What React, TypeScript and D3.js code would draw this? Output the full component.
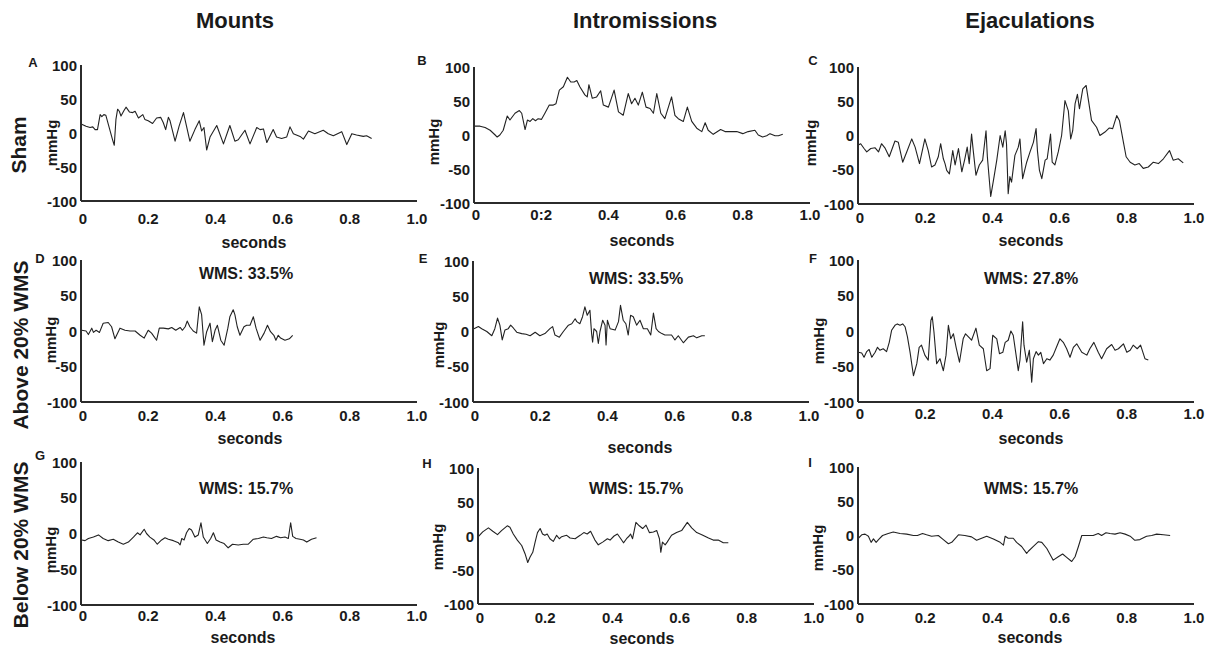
import React from "react";
import * as d3 from "d3";

// ---------- text ----------
const columnTitles = ["Mounts", "Intromissions", "Ejaculations"];
const rowLabels = ["Sham", "Above 20% WMS", "Below 20% WMS"];
const panelLetters = ["A", "B", "C", "D", "E", "F", "G", "H", "I"];
const xTickValues = [0, 0.2, 0.4, 0.6, 0.8, 1.0];
const xTickLabels = ["0", "0.2", "0.4", "0.6", "0.8", "1.0"];
const xTickLabelsB = ["0", "0:2", "0.4", "0.6", "0.8", "1.0"];
const yTickValues = [100, 50, 0, -50, -100];
const wmsLabels = [null, null, null, "WMS: 33.5%", "WMS: 33.5%", "WMS: 27.8%", "WMS: 15.7%", "WMS: 15.7%", "WMS: 15.7%"];

// ---------- data (seconds, mmHg) ----------
const timeA = [0.002,0.015,0.027,0.035,0.042,0.049,0.057,0.062,0.068,0.074,0.084,0.094,0.099,0.104,0.109,0.114,0.119,0.128,0.134,0.144,0.154,0.161,0.171,0.184,0.190,0.200,0.213,0.225,0.237,0.245,0.252,0.260,0.265,0.280,0.292,0.305,0.314,0.324,0.339,0.352,0.359,0.366,0.374,0.384,0.404,0.424,0.443,0.458,0.468,0.488,0.503,0.523,0.533,0.543,0.553,0.572,0.582,0.597,0.612,0.622,0.632,0.652,0.662,0.677,0.696,0.721,0.736,0.751,0.776,0.791,0.806,0.820,0.840,0.850,0.865];
const pressureA = [13,10,8,9,5,5,27,24,27,26,8,-10,-18,20,35,32,25,33,38,31,30,32,22,27,20,18,14,22,23,15,5,23,18,-12,10,30,10,-12,5,18,3,8,-25,-6,11,-16,11,-12,-10,4,-16,8,5,6,-14,5,-6,-8,-6,9,-1,-5,-9,3,-1,4,-1,-4,2,-17,-1,-3,-5,-4,-8];

const timeB = [0.003,0.018,0.033,0.048,0.063,0.069,0.077,0.087,0.099,0.107,0.122,0.135,0.142,0.152,0.159,0.167,0.175,0.183,0.191,0.201,0.211,0.224,0.236,0.244,0.254,0.266,0.278,0.288,0.298,0.306,0.315,0.330,0.337,0.342,0.352,0.365,0.377,0.385,0.400,0.417,0.430,0.444,0.459,0.469,0.479,0.489,0.501,0.512,0.524,0.534,0.544,0.556,0.568,0.588,0.598,0.608,0.623,0.635,0.648,0.663,0.678,0.688,0.697,0.712,0.734,0.747,0.762,0.782,0.800,0.816,0.836,0.846,0.859,0.871,0.881,0.896,0.906,0.919];
const pressureB = [13,13,11,7,0,-3,0,7,28,22,32,36,32,8,22,20,24,21,24,23,32,44,44,46,66,71,85,78,78,80,71,59,56,74,54,56,65,44,41,66,34,29,61,46,54,44,63,41,39,32,61,32,24,56,29,24,20,41,20,10,5,18,7,1,8,5,5,5,2,5,7,0,-3,-1,2,-1,-1,1];

const timeC = [0.001,0.008,0.018,0.026,0.038,0.051,0.061,0.070,0.080,0.093,0.110,0.120,0.133,0.145,0.160,0.170,0.183,0.199,0.209,0.219,0.229,0.239,0.246,0.254,0.259,0.264,0.272,0.282,0.289,0.299,0.309,0.318,0.325,0.331,0.338,0.343,0.351,0.361,0.371,0.381,0.385,0.395,0.405,0.413,0.423,0.431,0.438,0.442,0.447,0.452,0.457,0.467,0.477,0.482,0.490,0.502,0.512,0.522,0.530,0.534,0.540,0.547,0.557,0.563,0.573,0.578,0.586,0.596,0.606,0.616,0.626,0.633,0.639,0.646,0.653,0.659,0.669,0.679,0.686,0.695,0.710,0.720,0.735,0.748,0.758,0.770,0.778,0.790,0.798,0.810,0.824,0.837,0.849,0.864,0.879,0.894,0.909,0.927,0.938,0.953,0.968];
const pressureC = [-14,-12,-19,-24,-19,-18,-24,-12,-18,-31,-8,-10,-39,-24,-5,-17,-41,-5,-22,-46,-43,-31,-12,-34,-41,-51,-56,-22,-43,-19,-53,-34,-17,-41,2,-22,-58,-43,-36,7,-31,-89,-60,-36,0,-17,7,-12,-85,-60,-68,-29,-17,-5,-63,-39,-24,-10,10,-22,-51,-63,-36,-34,2,-39,-43,-24,0,51,36,-5,7,46,60,39,68,73,51,22,12,0,5,11,10,29,22,-10,-31,-39,-43,-41,-48,-46,-39,-41,-34,-22,-36,-34,-40];

const timeD = [0.002,0.015,0.022,0.032,0.037,0.045,0.055,0.066,0.081,0.091,0.101,0.116,0.131,0.146,0.161,0.176,0.188,0.200,0.210,0.225,0.233,0.245,0.260,0.270,0.282,0.295,0.302,0.310,0.316,0.324,0.334,0.344,0.352,0.359,0.366,0.374,0.384,0.391,0.399,0.406,0.416,0.426,0.437,0.443,0.453,0.458,0.465,0.473,0.485,0.493,0.503,0.513,0.521,0.533,0.545,0.555,0.564,0.574,0.580,0.587,0.594,0.607,0.620,0.630];
const pressureD = [1,0,-5,4,-2,1,-2,11,12,6,-11,4,1,0,0,-6,-10,1,-3,-13,4,4,3,5,1,5,1,6,14,6,0,-3,34,23,-20,-1,11,-15,1,8,-13,-20,4,20,30,23,6,-6,6,8,8,20,4,-13,-3,8,-1,-6,-13,-6,-10,-13,-11,-6];

const timeE = [0.003,0.016,0.026,0.041,0.056,0.065,0.073,0.080,0.087,0.095,0.105,0.112,0.120,0.130,0.145,0.158,0.170,0.185,0.199,0.214,0.229,0.237,0.244,0.257,0.269,0.284,0.294,0.304,0.309,0.318,0.326,0.333,0.340,0.348,0.353,0.356,0.360,0.368,0.373,0.378,0.386,0.393,0.396,0.400,0.408,0.423,0.433,0.439,0.447,0.455,0.462,0.469,0.477,0.487,0.497,0.507,0.519,0.529,0.537,0.545,0.552,0.562,0.571,0.581,0.591,0.601,0.611,0.626,0.641,0.656,0.666,0.681,0.690];
const pressureE = [4,7,4,0,-6,4,19,9,-12,2,4,9,5,-1,-3,-4,-6,-1,-6,-3,4,7,-5,-8,0,9,11,18,14,11,21,35,23,30,-3,-15,4,0,-17,0,16,9,-19,16,4,2,14,37,16,11,-5,23,21,9,16,4,4,-5,26,4,0,-3,-5,-5,-5,-12,-6,-16,-8,-6,-9,-6,-6];

const timeF = [0.001,0.011,0.018,0.026,0.033,0.041,0.051,0.058,0.065,0.075,0.085,0.093,0.100,0.110,0.117,0.125,0.133,0.140,0.147,0.155,0.165,0.175,0.182,0.189,0.199,0.209,0.217,0.221,0.226,0.234,0.244,0.254,0.262,0.269,0.276,0.284,0.292,0.302,0.313,0.320,0.328,0.338,0.351,0.361,0.373,0.383,0.393,0.401,0.413,0.421,0.431,0.438,0.447,0.455,0.462,0.472,0.477,0.482,0.490,0.494,0.502,0.510,0.517,0.522,0.530,0.537,0.544,0.552,0.562,0.571,0.581,0.593,0.601,0.611,0.621,0.631,0.641,0.651,0.666,0.681,0.690,0.702,0.715,0.725,0.740,0.755,0.765,0.775,0.790,0.800,0.810,0.819,0.831,0.841,0.854,0.864];
const pressureF = [-30,-31,-37,-29,-26,-37,-30,-23,-27,-25,-29,-16,1,8,10,8,10,6,-8,-30,-63,-46,-23,-20,-34,-41,15,20,-1,-46,-39,-56,-34,8,-11,-4,-23,-44,-11,-4,-8,-13,4,-20,-25,-56,-53,-6,-11,-32,-30,-16,-13,0,-6,-39,-56,-41,13,-20,-44,-27,-72,-39,-29,-34,-30,-46,-39,-41,-34,-20,-11,-16,-25,-37,-23,-18,-30,-34,-25,-16,-30,-39,-25,-19,-27,-25,-18,-30,-27,-20,-25,-20,-39,-41];

const timeG = [0.002,0.012,0.022,0.037,0.052,0.066,0.081,0.096,0.111,0.126,0.141,0.156,0.168,0.176,0.188,0.195,0.205,0.217,0.227,0.240,0.250,0.260,0.275,0.290,0.295,0.300,0.307,0.314,0.322,0.329,0.339,0.349,0.357,0.364,0.376,0.386,0.394,0.402,0.414,0.426,0.438,0.451,0.468,0.483,0.498,0.513,0.528,0.543,0.553,0.567,0.582,0.594,0.607,0.617,0.624,0.630,0.640,0.652,0.662,0.672,0.686,0.701];
const pressureG = [-9,-10,-7,-5,-2,-7,-10,-8,-12,-15,-12,-5,1,-2,6,0,-5,-9,-15,-9,-6,-8,-10,-13,-16,-7,-9,1,7,5,-5,-2,15,-5,-14,-7,1,-9,-12,-14,-20,-15,-16,-15,-15,-8,-7,-5,-6,-7,-4,-6,-5,-7,15,-4,-7,-8,-9,-12,-8,-6];

const timeH = [0.001,0.014,0.031,0.044,0.058,0.070,0.087,0.095,0.105,0.117,0.130,0.140,0.148,0.155,0.163,0.170,0.177,0.185,0.192,0.199,0.206,0.214,0.224,0.234,0.242,0.249,0.256,0.264,0.274,0.289,0.304,0.315,0.325,0.335,0.348,0.358,0.371,0.385,0.393,0.405,0.415,0.425,0.433,0.442,0.450,0.454,0.460,0.470,0.480,0.490,0.500,0.510,0.522,0.532,0.540,0.544,0.549,0.557,0.563,0.576,0.591,0.606,0.623,0.636,0.651,0.666,0.686,0.700,0.715,0.730,0.745];
const pressureH = [-1,6,12,7,2,8,15,13,3,-6,-14,-26,-39,-31,-24,-9,5,11,3,1,3,-4,-8,1,-4,-1,0,1,-3,-4,1,5,3,7,-6,-13,-9,-4,-6,0,3,-4,-10,-4,0,3,-4,20,15,11,16,5,6,8,-4,-24,-9,-13,-9,1,5,8,20,12,5,2,-3,-6,-6,-10,-10];

const timeI = [0.001,0.011,0.021,0.031,0.039,0.046,0.054,0.061,0.073,0.090,0.105,0.125,0.145,0.165,0.177,0.192,0.204,0.219,0.239,0.254,0.269,0.279,0.299,0.318,0.338,0.353,0.368,0.383,0.403,0.423,0.433,0.438,0.447,0.462,0.472,0.487,0.502,0.507,0.522,0.537,0.547,0.562,0.581,0.596,0.609,0.621,0.636,0.646,0.656,0.666,0.681,0.700,0.715,0.725,0.738,0.750,0.765,0.780,0.795,0.810,0.824,0.839,0.859,0.874,0.889,0.909,0.929];
const pressureI = [-4,1,2,-1,-10,-5,-10,-6,0,3,5,3,2,0,0,3,1,-1,0,-6,-12,-10,1,0,-2,-7,-4,-1,-5,-10,-14,-1,-4,-4,-10,-16,-26,-23,-16,-9,-10,-19,-36,-31,-27,-32,-38,-31,-16,0,0,0,3,0,4,3,2,4,2,-1,-7,-6,-1,0,2,1,0];

const times = [timeA, timeB, timeC, timeD, timeE, timeF, timeG, timeH, timeI];
const pressures = [pressureA, pressureB, pressureC, pressureD, pressureE, pressureF, pressureG, pressureH, pressureI];

// ---------- layout ----------
const W = 336;
const layout = [
  { x0: 81, top: 65, bot: 201, tickDy: 17, mm: [51, 143], sec: [254, 242], letter: [33, 62], wms: null },
  { x0: 474, top: 67, bot: 203, tickDy: 11, mm: [433, 142], sec: [642, 240], letter: [422, 60], wms: null },
  { x0: 858, top: 67, bot: 204, tickDy: 13, mm: [810, 143], sec: [1031, 240], letter: [813, 60], wms: null },
  { x0: 81, top: 260, bot: 402, tickDy: 13, mm: [50, 340], sec: [250, 438], letter: [40, 258], wms: [246, 273] },
  { x0: 473, top: 261, bot: 402, tickDy: 13, mm: [438, 345], sec: [640, 447], letter: [423, 258], wms: [636, 278] },
  { x0: 858, top: 260, bot: 402, tickDy: 11, mm: [818, 341], sec: [1031, 438], letter: [813, 258], wms: [1031, 278] },
  { x0: 81, top: 462, bot: 605, tickDy: 10, mm: [50, 550], sec: [243, 637], letter: [40, 455], wms: [246, 488] },
  { x0: 478, top: 468, bot: 604, tickDy: 13, mm: [437, 547], sec: [642, 638], letter: [427, 463], wms: [636, 488] },
  { x0: 858, top: 467, bot: 604, tickDy: 13, mm: [817, 548], sec: [1030, 637], letter: [810, 462], wms: [1031, 488] },
];
const titlePos = [[235, 20], [645, 20], [1030, 20]];
const rowPos = [[18, 145], [20, 345], [20, 545]];

const FONT = "'Liberation Sans', Arial, sans-serif";
const INK = "#1a1a1a";

function Panel({ i }: { i: number }) {
  const L = layout[i];
  const x = d3.scaleLinear().domain([0, 1]).range([L.x0, L.x0 + W]);
  const y = d3.scaleLinear().domain([-100, 100]).range([L.bot, L.top]);
  const t = times[i];
  const p = pressures[i];
  const pts: [number, number][] = t.map((tt, k) => [tt, p[k]]);
  const line = d3.line<[number, number]>().x((d) => x(d[0])).y((d) => y(d[1]));
  const labels = i === 1 ? xTickLabelsB : xTickLabels;
  return (
    <g>
      <path d={line(pts) || ""} fill="none" stroke="#222" strokeWidth={1.1} strokeLinejoin="round" />
      <line x1={L.x0} y1={L.top} x2={L.x0} y2={L.bot} stroke="#2b2b2b" strokeWidth={2} />
      <line x1={L.x0} y1={L.bot} x2={L.x0 + W} y2={L.bot} stroke="#2b2b2b" strokeWidth={2} />
      {yTickValues.map((v) => (
        <text key={"y" + v} x={L.x0 - 4} y={y(v)} textAnchor="end" dominantBaseline="central"
          fontSize={15} fontWeight="bold" fontFamily={FONT} fill={INK}>{v}</text>
      ))}
      {xTickValues.map((v, k) => (
        <text key={"x" + k} x={x(v) + (k === 0 ? 2 : 0)} y={L.bot + L.tickDy} textAnchor="middle" dominantBaseline="central"
          fontSize={15} fontWeight="bold" fontFamily={FONT} fill={INK}>{labels[k]}</text>
      ))}
      <text x={L.sec[0]} y={L.sec[1]} textAnchor="middle" dominantBaseline="central"
        fontSize={16} fontWeight="bold" fontFamily={FONT} fill={INK}>seconds</text>
      <text transform={`translate(${L.mm[0]},${L.mm[1]}) rotate(-90)`} textAnchor="middle" dominantBaseline="central"
        fontSize={15} fontWeight="bold" fontFamily={FONT} fill={INK}>mmHg</text>
      <text x={L.letter[0]} y={L.letter[1]} textAnchor="middle" dominantBaseline="central"
        fontSize={13} fontWeight="bold" fontFamily={FONT} fill={INK}>{panelLetters[i]}</text>
      {L.wms && wmsLabels[i] && (
        <text x={L.wms[0]} y={L.wms[1]} textAnchor="middle" dominantBaseline="central"
          fontSize={16} fontWeight="bold" fontFamily={FONT} fill={INK}>{wmsLabels[i]}</text>
      )}
    </g>
  );
}

export default function App() {
  return (
    <svg width={1215} height={648} style={{ position: "absolute", left: 0, top: 0, background: "#fff" }}>
      <rect x={0} y={0} width={1215} height={648} fill="#fff" />
      {columnTitles.map((c, k) => (
        <text key={c} x={titlePos[k][0]} y={titlePos[k][1]} textAnchor="middle" dominantBaseline="central"
          fontSize={22} fontWeight="bold" fontFamily={FONT} fill={INK}>{c}</text>
      ))}
      {rowLabels.map((r, k) => (
        <text key={r} transform={`translate(${rowPos[k][0]},${rowPos[k][1]}) rotate(-90)`} textAnchor="middle"
          dominantBaseline="central" fontSize={21} fontWeight="bold" fontFamily={FONT} fill={INK}>{r}</text>
      ))}
      {panelLetters.map((_, i) => <Panel key={i} i={i} />)}
    </svg>
  );
}
